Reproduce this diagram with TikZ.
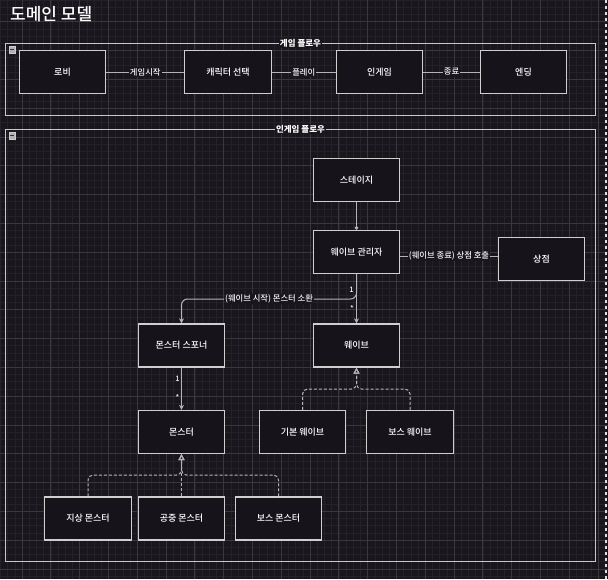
\documentclass[tikz,border=0pt]{standalone}
\usepackage{fontspec}
\setmainfont{Noto Sans CJK KR}
\newfontfamily\medfont{Noto Sans CJK KR Medium}
\usetikzlibrary{arrows.meta}
\definecolor{bgc}{HTML}{19171D}
\definecolor{minorc}{HTML}{242229}
\definecolor{majorc}{HTML}{3A383F}
\definecolor{boxfill}{HTML}{16131B}
\definecolor{boxline}{HTML}{CFCFCF}
\definecolor{edgec}{HTML}{B4B4B4}
\definecolor{contc}{HTML}{C8C8C8}
\tikzset{
  box/.style={draw=boxline, line width=1.3pt, fill=boxfill, minimum width=86.5pt, minimum height=43pt, text=white, font=\medfont\fontsize{9}{11}\selectfont, inner sep=0pt},
  cont/.style={draw=contc, line width=1pt, anchor=north west, inner sep=0pt},
  conttitle/.style={fill=bgc, text=white, font=\fontsize{8.5}{10}\selectfont\bfseries, inner sep=1pt},
  edge/.style={draw=edgec, line width=1pt},
  elabel/.style={fill=bgc, text=white!92!gray, font=\medfont\fontsize{8.3}{10}\selectfont, inner sep=1pt},
  mult/.style={text=white!92!gray, font=\medfont\fontsize{7.5}{9}\selectfont, inner sep=0pt},
  arr/.style={-{Stealth[length=5pt,width=5pt]}},
  inh/.style={draw=edgec, line width=1pt, dash pattern=on 3pt off 2pt, rounded corners=5pt, -{Triangle[open,length=6pt,width=6pt]}},
  colicon/.style={fill=gray!60, draw=gray!40, minimum size=6.5pt, inner sep=0pt}
}
\begin{document}
\begin{tikzpicture}[x=1pt,y=-1pt]
\useasboundingbox (0,0) rectangle (608,579);
\fill[bgc] (0,0) rectangle (608,579);
% grid
\foreach \i in {0,...,84} {\draw[minorc, line width=0.5pt] ({0.4+7.2*\i},0) -- ({0.4+7.2*\i},579);}
\foreach \i in {0,...,80} {\draw[minorc, line width=0.5pt] (0,{0.1+7.2*\i}) -- (608,{0.1+7.2*\i});}
\foreach \i in {0,...,20} {\draw[majorc, line width=0.8pt] ({22+28.8*\i},0) -- ({22+28.8*\i},579);}
\foreach \i in {0,...,19} {\draw[majorc, line width=0.8pt] (0,{21.7+28.8*\i}) -- (608,{21.7+28.8*\i});}
\draw[white!75!gray, line width=1.3pt, dash pattern=on 3pt off 3pt] (606,0) -- (606,579);
% title
\node[anchor=west, text=white, font=\medfont\fontsize{17}{20}\selectfont, inner sep=0pt] (title) at (10,14) {도메인 모델};
% containers
\node[cont, minimum width=590pt, minimum height=72pt] (g1) at (5,43) {};
\node[conttitle] (g1t) at (g1.north) {게임 플로우};
\node[colicon] (g1c) at (12,49.5) {};
\draw[black!80, line width=0.8pt] ([xshift=-2pt]g1c.center) -- ([xshift=2pt]g1c.center);
\node[cont, minimum width=590pt, minimum height=432pt] (g2) at (5,129) {};
\node[conttitle] (g2t) at (g2.north) {인게임 플로우};
\node[colicon] (g2c) at (12,135.5) {};
\draw[black!80, line width=0.8pt] ([xshift=-2pt]g2c.center) -- ([xshift=2pt]g2c.center);
% game flow
\node[box] (lobby) at (62.5,72) {로비};
\node[box] (charsel) at (228,72) {캐릭터 선택};
\node[box] (ingame) at (379.5,72) {인게임};
\node[box] (ending) at (523.5,72) {엔딩};
\draw[edge] (lobby) -- node[elabel] {게임시작} (charsel);
\draw[edge] (charsel) -- node[elabel] {플레이} (ingame);
\draw[edge] (ingame) -- node[elabel] {종료} (ending);
% ingame flow
\node[box] (stage) at (356.5,180) {스테이지};
\node[box] (wmgr) at (356.5,252) {웨이브 관리자};
\node[box] (shop) at (541.5,259) {상점};
\node[box] (spawner) at (181.5,345.5) {몬스터 스포너};
\node[box] (wave) at (356.5,345.5) {웨이브};
\node[box] (monster) at (181.5,432) {몬스터};
\node[box] (basicw) at (302.5,432) {기본 웨이브};
\node[box] (bossw) at (410,432) {보스 웨이브};
\node[box] (ground) at (88,518.5) {지상 몬스터};
\node[box] (air) at (181.5,518.5) {공중 몬스터};
\node[box] (bossm) at (278.5,518.5) {보스 몬스터};
\draw[edge, -{Diamond[length=4pt,width=4pt]}] (stage) -- (wmgr);
\draw[edge] ([yshift=-4pt]wmgr.east) -- node[elabel] {(웨이브 종료) 상점 호출} ([yshift=3pt]shop.west);
\draw[edge, arr] (wmgr) -- (wave);
\node[mult] (m1) at (351.5,290) {1};
\node[mult] (m2) at (352,308) {*};
\coordinate (b1) at (356.5,299);
\coordinate (b2) at (181.5,299);
\draw[edge, arr, rounded corners=6pt] (wmgr.south) -- (b1) -- node[elabel] {(웨이브 시작) 몬스터 소환} (b2) -- (spawner.north);
\draw[edge, arr] (spawner) -- (monster);
\node[mult] (m3) at (177.5,379) {1};
\node[mult] (m4) at (177.5,397.5) {*};
% inheritance
\coordinate (w1) at (302.5,389);
\coordinate (w2) at (410,389);
\coordinate (wj) at (356.5,389);
\draw[inh] (basicw.north) -- (w1) -- (wj) -- (wave.south);
\draw[inh] (bossw.north) -- (w2) -- (wj) -- (wave.south);
\coordinate (n1) at (88,475);
\coordinate (n2) at (278.5,475);
\coordinate (nj) at (181.5,475);
\draw[inh] (ground.north) -- (n1) -- (nj) -- (monster.south);
\draw[inh] (air.north) -- (monster.south);
\draw[inh] (bossm.north) -- (n2) -- (nj) -- (monster.south);
\end{tikzpicture}
\end{document}
